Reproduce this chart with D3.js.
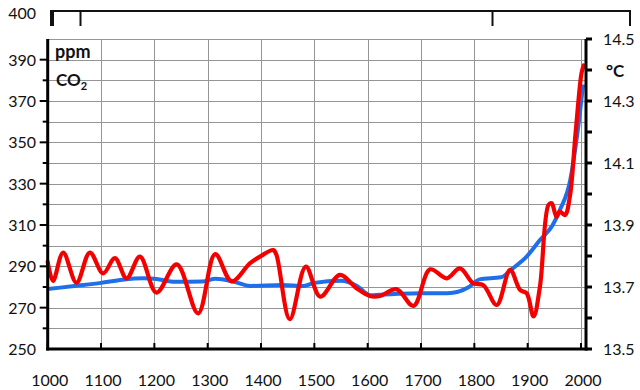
<!DOCTYPE html>
<html>
<head>
<meta charset="utf-8">
<script src="https://cdn.jsdelivr.net/npm/d3@7"></script>
<style>
  body { margin: 0; background: #fff; }
  text { font-family: Lato, "Open Sans", sans-serif; fill: #111; }
</style>
</head>
<body>
<svg id="chart" width="640" height="390"></svg>
<script>
// CO2 (ppm, left axis) - blue
const co2Years = [1000, 1050, 1100, 1140, 1180, 1200, 1240, 1290, 1315, 1350, 1380, 1440, 1480, 1500, 1550, 1580, 1605, 1650, 1700, 1750, 1790, 1810, 1850, 1872, 1898, 1923, 1947, 1960, 1980, 1992, 2004];
const co2Values = [279, 280.5, 282, 283.5, 284.2, 284, 282.5, 282.7, 284, 282.5, 280.5, 281, 280.5, 282, 283, 280.5, 276, 276.6, 277, 277, 280, 283.7, 284.7, 289, 294.7, 302.7, 310, 317, 332, 352, 378];

// temperature (°C, right axis) - red
const tempYears = [1000, 1010, 1029, 1054, 1079, 1104, 1126, 1148, 1173, 1204, 1242, 1282, 1314, 1345, 1379, 1398, 1423, 1429, 1454, 1484, 1511, 1548, 1579, 1604, 1623, 1654, 1686, 1717, 1748, 1773, 1798, 1817, 1842, 1867, 1886, 1898, 1911, 1923, 1939, 1945, 1954, 1960, 1970, 1979, 1990, 2001, 2005];
const tempValues = [13.781, 13.720, 13.811, 13.714, 13.811, 13.744, 13.793, 13.728, 13.798, 13.682, 13.773, 13.615, 13.806, 13.718, 13.776, 13.798, 13.819, 13.803, 13.596, 13.766, 13.669, 13.739, 13.696, 13.671, 13.671, 13.693, 13.639, 13.757, 13.728, 13.760, 13.712, 13.706, 13.642, 13.755, 13.690, 13.680, 13.605, 13.701, 13.965, 13.970, 13.927, 13.943, 13.932, 13.991, 14.2, 14.39, 14.415];

const xTicks = d3.range(1000, 2001, 100);
const ppmLabels = [250, 270, 290, 310, 330, 350, 370, 390];
const tempLabels = [13.5, 13.7, 13.9, 14.1, 14.3, 14.5];

const svg = d3.select('#chart');
const m = { left: 47.7, right: 581, axisRight: 586, top: 39, bottom: 349 };

const x = d3.scaleLinear([1000, 2000], [m.left, m.right]);
const yPpm = d3.scaleLinear([250, 400], [m.bottom, m.top]);
const yTemp = d3.scaleLinear([13.5, 14.5], [m.bottom, m.top]);

// grid
const grid = svg.append('g').attr('stroke', '#959595').attr('stroke-width', 1);
grid.selectAll('.h').data(d3.range(260, 401, 10)).join('line')
  .attr('x1', m.left).attr('x2', m.axisRight)
  .attr('y1', d => Math.round(yPpm(d)) + 0.5).attr('y2', d => Math.round(yPpm(d)) + 0.5);
grid.selectAll('.v').data(xTicks.slice(1)).join('line')
  .attr('x1', d => Math.round(x(d)) + 0.5).attr('x2', d => Math.round(x(d)) + 0.5)
  .attr('y1', m.top).attr('y2', m.bottom);

// top frame decoration
svg.append('line').attr('x1', 51).attr('x2', 631).attr('y1', 11).attr('y2', 11)
  .attr('stroke', '#111').attr('stroke-width', 2);
svg.append('line').attr('x1', 52).attr('x2', 52).attr('y1', 10).attr('y2', 26)
  .attr('stroke', '#111').attr('stroke-width', 4);
svg.selectAll('.topTick').data([80.5, 492.5, 630]).join('line')
  .attr('x1', d => d).attr('x2', d => d).attr('y1', 11).attr('y2', 26)
  .attr('stroke', '#111').attr('stroke-width', 2);
svg.append('text').attr('x', 36).attr('y', 19).attr('text-anchor', 'end')
  .attr('font-size', 16).text('400');

// lines
const lineCo2 = d3.line()
  .x((d, i) => x(co2Years[i])).y(d => yPpm(d))
  .curve(d3.curveMonotoneX);
const lineTemp = d3.line()
  .x((d, i) => x(tempYears[i])).y(d => yTemp(d))
  .curve(d3.curveCatmullRom.alpha(0.5));

svg.append('path').attr('d', lineCo2(co2Values))
  .attr('fill', 'none').attr('stroke', '#1f6fe8').attr('stroke-width', 4)
  .attr('stroke-linejoin', 'round');
svg.append('path').attr('d', lineTemp(tempValues))
  .attr('fill', 'none').attr('stroke', '#f50000').attr('stroke-width', 4.2)
  .attr('stroke-linejoin', 'round').attr('stroke-linecap', 'round');

// axes
const axisColor = '#000';
// left
const leftAxis = svg.append('g');
leftAxis.append('line').attr('x1', m.left).attr('x2', m.left).attr('y1', m.top).attr('y2', m.bottom + 1.5)
  .attr('stroke', axisColor).attr('stroke-width', 3);
leftAxis.selectAll('.lt').data(d3.range(260, 391, 10)).join('line')
  .attr('x1', d => ppmLabels.includes(d) ? m.left - 8 : m.left - 5).attr('x2', m.left)
  .attr('y1', d => yPpm(d)).attr('y2', d => yPpm(d))
  .attr('stroke', axisColor).attr('stroke-width', 2);
leftAxis.selectAll('text').data(ppmLabels).join('text')
  .attr('x', 36).attr('y', d => yPpm(d) + 6).attr('text-anchor', 'end')
  .attr('font-size', 16).text(d => d);

// right
const rightAxis = svg.append('g');
rightAxis.append('line').attr('x1', m.axisRight).attr('x2', m.axisRight).attr('y1', m.top).attr('y2', m.bottom + 1.5)
  .attr('stroke', axisColor).attr('stroke-width', 3);
rightAxis.selectAll('.rt').data(d3.range(13.5, 14.55, 0.1)).join('line')
  .attr('x1', m.axisRight).attr('x2', m.axisRight + 6)
  .attr('y1', d => yTemp(d)).attr('y2', d => yTemp(d))
  .attr('stroke', axisColor).attr('stroke-width', 3);
rightAxis.selectAll('text').data(tempLabels).join('text')
  .attr('x', 603).attr('y', d => yTemp(d) + 6)
  .attr('font-size', 16).text(d => d.toFixed(1));

// bottom
const bottomAxis = svg.append('g');
bottomAxis.append('line').attr('x1', m.left - 1.5).attr('x2', m.axisRight + 1.5).attr('y1', m.bottom).attr('y2', m.bottom)
  .attr('stroke', axisColor).attr('stroke-width', 3);
bottomAxis.selectAll('.bt').data(xTicks).join('line')
  .attr('x1', d => x(d)).attr('x2', d => x(d)).attr('y1', m.bottom).attr('y2', m.bottom - 6)
  .attr('stroke', axisColor).attr('stroke-width', 2);
bottomAxis.selectAll('text').data(xTicks).join('text')
  .attr('x', d => x(d) + 2).attr('y', 386).attr('text-anchor', 'middle')
  .attr('font-size', 16).text(d => d);

// unit labels
svg.append('text').attr('x', 55).attr('y', 58).attr('font-size', 18).attr('font-weight', 'bold').text('ppm');
const co2 = svg.append('text').attr('x', 56).attr('y', 86).attr('font-size', 17).attr('font-weight', 'bold');
co2.append('tspan').text('CO');
co2.append('tspan').attr('font-size', 11).attr('dy', 4).text('2');
svg.append('text').attr('x', 606).attr('y', 77).attr('font-size', 17).attr('font-weight', 'bold').text('°C');
</script>
</body>
</html>
